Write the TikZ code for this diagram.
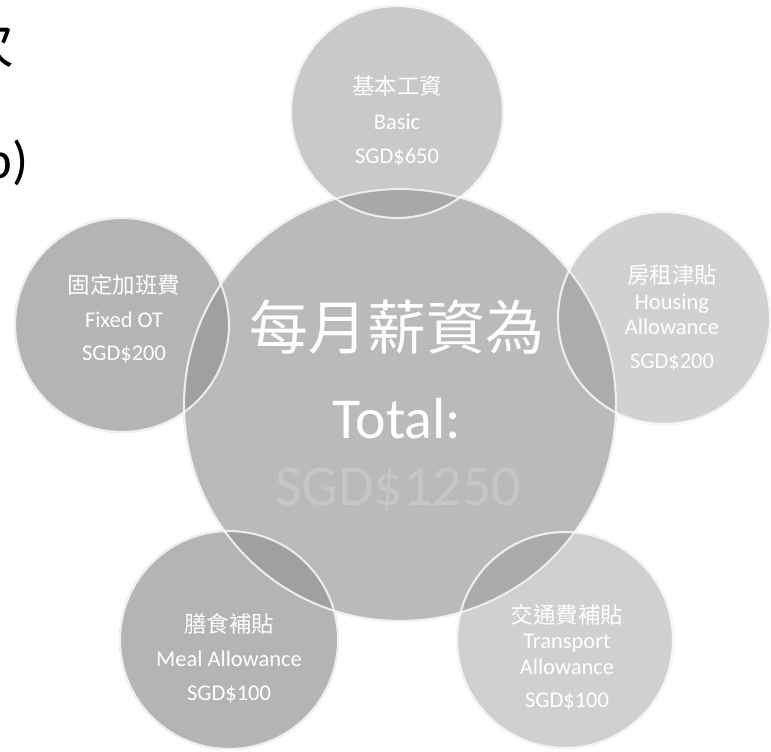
\documentclass[tikz,border=0pt]{standalone}
\usepackage{fontspec}
\setmainfont{Carlito}
\newfontfamily\cjk{Noto Sans CJK TC}
\usetikzlibrary{positioning}

\definecolor{centregray}{RGB}{186,186,186}
\definecolor{sumgray}{RGB}{198,198,198}
\definecolor{basicgray}{RGB}{201,201,201}
\definecolor{otgray}{RGB}{180,180,180}
\definecolor{housinggray}{RGB}{209,209,209}
\definecolor{mealgray}{RGB}{180,180,180}
\definecolor{transportgray}{RGB}{208,208,208}
% where a part lies over the middle circle
\definecolor{basiclap}{RGB}{168,168,168}
\definecolor{otlap}{RGB}{160,160,160}
\definecolor{housinglap}{RGB}{172,172,172}
\definecolor{meallap}{RGB}{160,160,160}
\definecolor{transportlap}{RGB}{171,171,171}

\tikzstyle{bubble} = [circle, inner sep=0pt]
\tikzstyle{rim} = [draw=white, line width=1.2pt, draw opacity=0.8]
\tikzstyle{bubbletext} = [align=center, text=white, inner sep=0pt, font=\fontsize{12.8}{14.5}\selectfont]
\tikzstyle{fragment} = [inner sep=0pt, text=black]

\begin{document}
\begin{tikzpicture}[x=0.02cm,y=-0.02cm]
            %
            \useasboundingbox (0,0) rectangle (771,751);
            \clip (0,0) rectangle (771,751);
            % Cut-off heading at the left edge
            \node [fragment, anchor=east, font=\fontsize{30}{30}\selectfont] (headA) at (15,44) {\cjk 次};
            \node [fragment, anchor=base east, font=\fontsize{30}{30}\selectfont] (headB) at (29,178) {p)};
            %
            % We start by placing the big circle in the middle
            \node [bubble, fill=centregray, minimum size=8.68cm] (total) at (400,405) {};
            % The five parts sit round it
            \node [bubble, fill=basicgray, minimum size=4.28cm] (basic) at (397,112) {};
            \node [bubble, fill=otgray, minimum size=4.32cm] (fixedot) at (122,325) {};
            \node [bubble, fill=housinggray, minimum size=4.28cm] (housing) at (664,318) {};
            \node [bubble, fill=mealgray, minimum size=4.4cm] (meal) at (229,640) {};
            \node [bubble, fill=transportgray, minimum size=4.36cm] (transport) at (565,640) {};
            %
            % Darker where they overlap the middle one
            \begin{scope}
                \clip (total.center) circle (217);
                \foreach \n/\r/\c in {basic/107/basiclap, fixedot/108/otlap, housing/107/housinglap, meal/110/meallap, transport/109/transportlap}
                    \fill [fill=\c] (\n.center) circle (\r);
            \end{scope}
            % Light rims
            \foreach \n/\r in {total/216, basic/106, fixedot/107, housing/106, meal/109, transport/108}
                \draw [rim] (\n.center) circle (\r);
            %
            % Texts of the parts
            \node [bubbletext] (basic-text) at (397,121) {{\cjk 基本工資}\\[5pt] Basic\\[5pt] SGD\$650};
            \node [bubbletext] (fixedot-text) at (124,319) {{\cjk 固定加班費}\\[4.5pt] Fixed OT\\[4.5pt] SGD\$200};
            \node [bubbletext] (housing-text) at (672,318) {{\cjk 房租津貼}\\ Housing\\ Allowance\\[5pt] SGD\$200};
            \node [bubbletext] (meal-text) at (229,658) {{\cjk 膳食補貼}\\[5pt] Meal Allowance\\[4.5pt] SGD\$100};
            \node [bubbletext] (transport-text) at (567,657) {{\cjk 交通費補貼}\\ Transport\\ Allowance\\[4.5pt] SGD\$100};
            %
            % Text of the middle circle
            \node [inner sep=0pt, anchor=base, text=white, font=\cjk\fontsize{33.5}{36}\selectfont] (total-zh) at (397,349) {每月薪資為};
            \node [inner sep=0pt, anchor=base, text=white, font=\fontsize{33}{36}\selectfont] (total-en) at (397,438) {Total:};
            \node [inner sep=0pt, anchor=base, text=sumgray, font=\fontsize{33}{36}\selectfont] (total-sum) at (398,505) {SGD\$1250};
            %
        \end{tikzpicture}
\end{document}
